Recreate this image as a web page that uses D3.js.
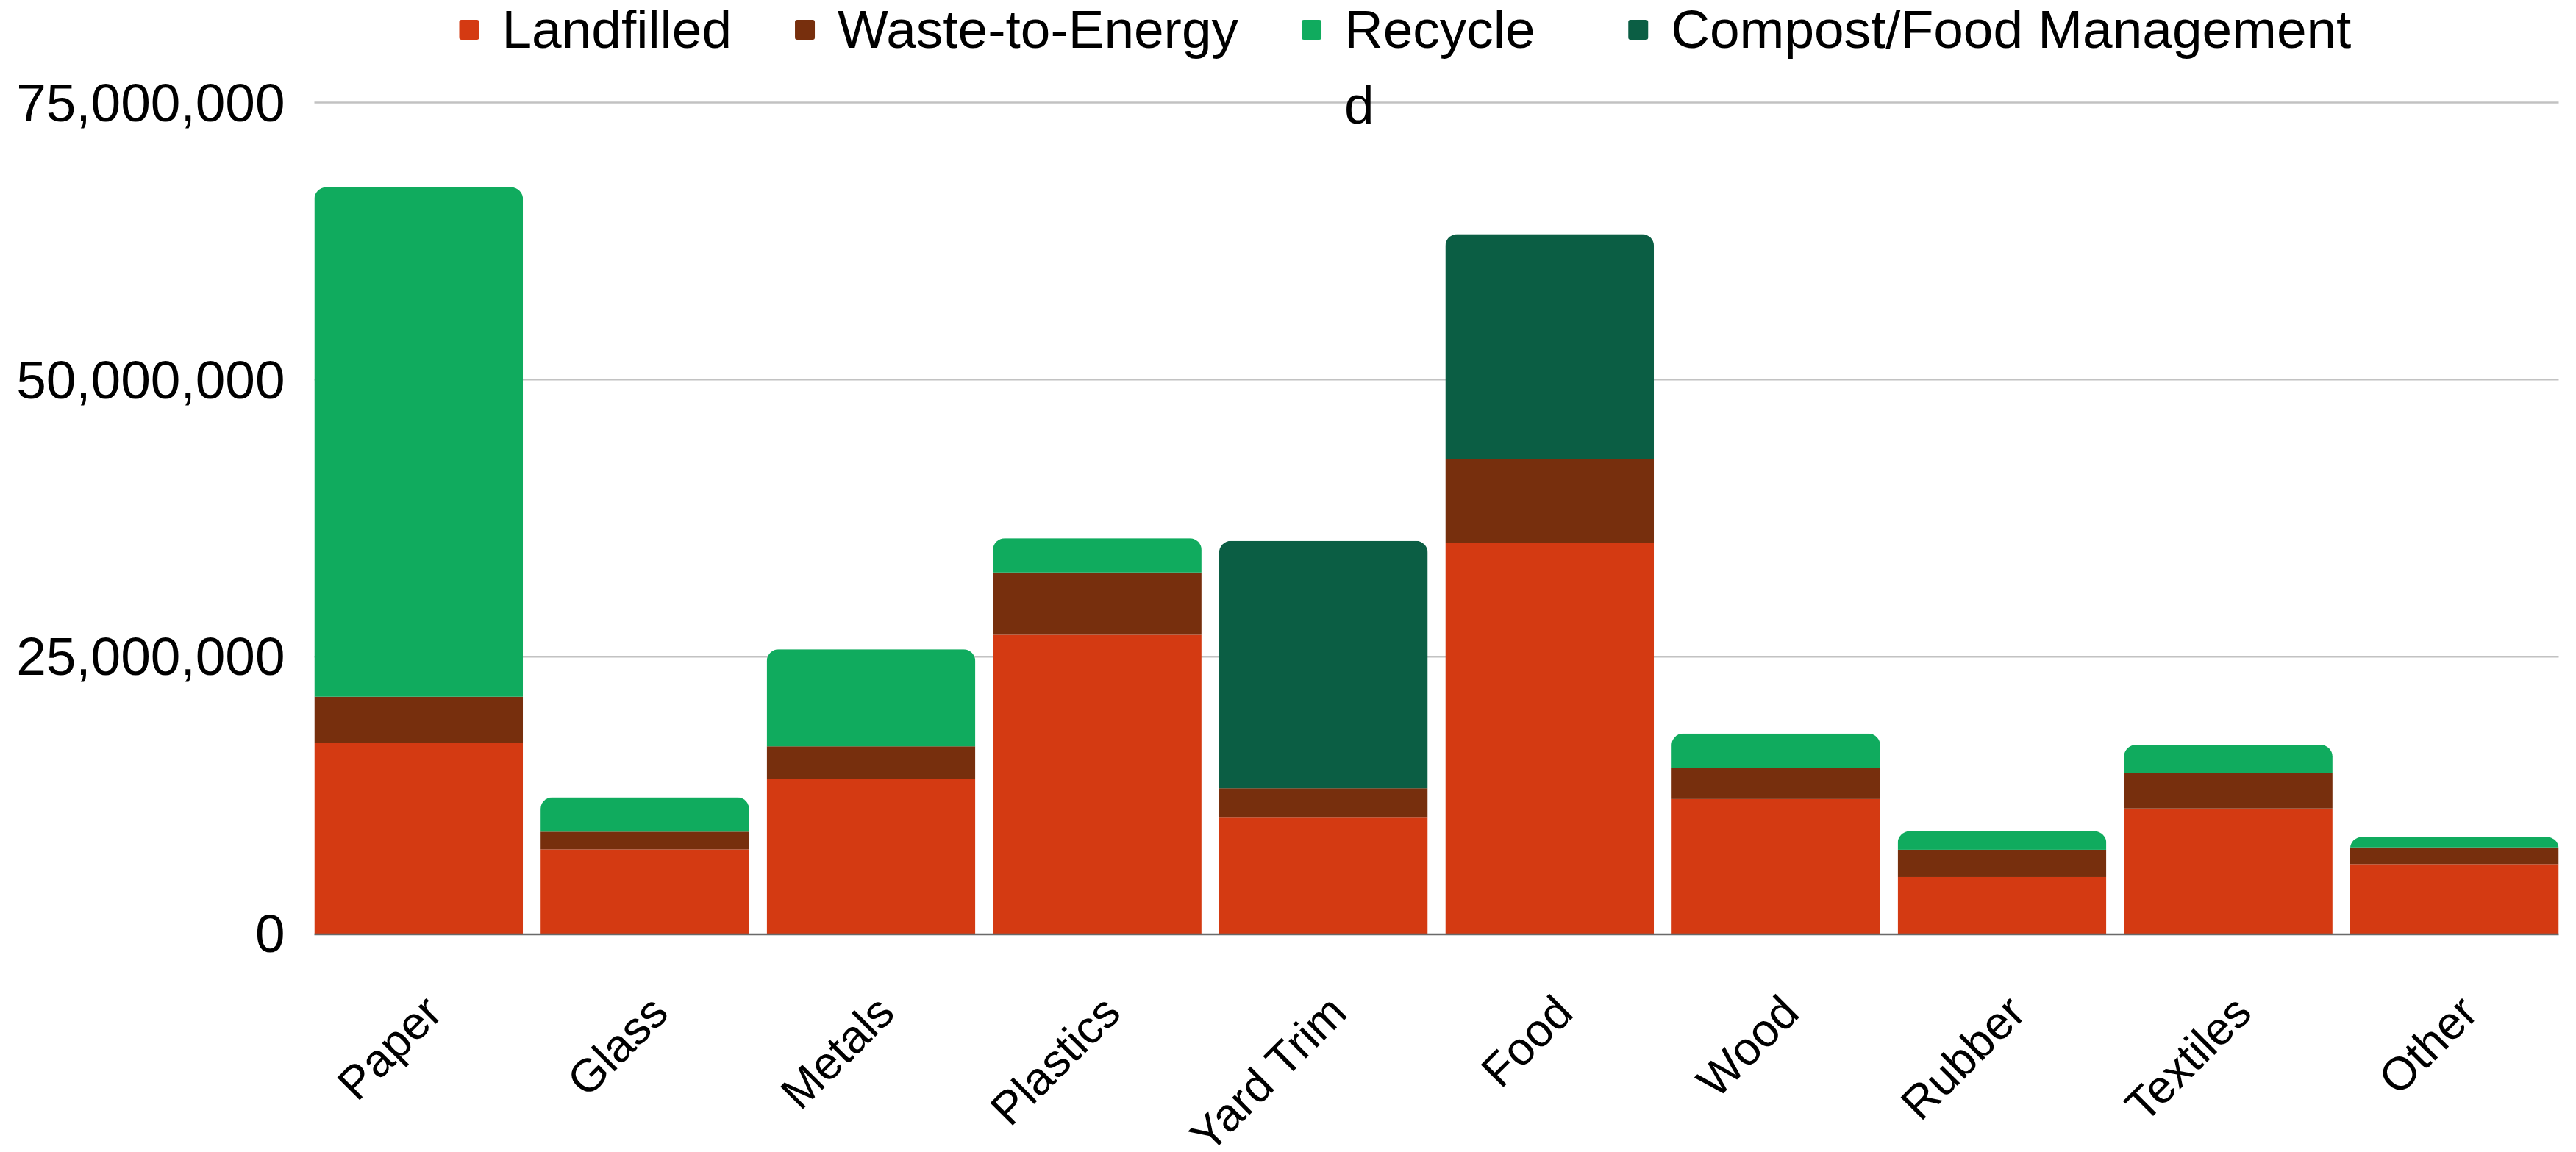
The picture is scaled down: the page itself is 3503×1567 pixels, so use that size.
<!DOCTYPE html>
<html>
<head>
<meta charset="utf-8">
<script src="https://cdn.jsdelivr.net/npm/d3@7"></script>
<style>
  body { margin: 0; background: #fff; }
  text { font-family: "Liberation Sans", Arial, sans-serif; }
</style>
</head>
<body>
<div class="stackChart"></div>
<script>
// municipal solid waste by material, tons
var categories    = ["Paper", "Glass", "Metals", "Plastics", "Yard Trim", "Food", "Wood", "Rubber", "Textiles", "Other"];
var landfilled    = [17220000, 7600000, 13960000, 26970000, 10530000, 35280000, 12150000, 5110000, 11300000, 6280000];
var wasteToEnergy = [4160000, 1600000, 2940000, 5620000, 2590000, 7550000, 2810000, 2460000, 3220000, 1500000];
var recycled      = [45970000, 3100000, 8760000, 3090000, 0, 0, 3100000, 1670000, 2510000, 950000];
var composted     = [0, 0, 0, 0, 22320000, 20300000, 0, 0, 0, 0];
var seriesNames   = ["Landfilled", "Waste-to-Energy", "Recycled", "Compost/Food Management"];
var yTicks        = [0, 25000000, 50000000, 75000000];

var keys   = ["landfilled", "wte", "recycled", "composted"];
var colors = ["#d43a12", "#772f0d", "#10ab5e", "#0b5e44"];

var width = 3503, height = 1567;
var fontSize = 73, labelSize = 63;

var svg = d3.select(".stackChart")
    .append("svg")
    .attr("width", width)
    .attr("height", height);

var x = d3.scaleBand()
    .domain(categories)
    .range([427.5, 3479.5])
    .paddingInner(0.078)
    .paddingOuter(0);

var y = d3.scaleLinear()
    .domain([0, 75000000])
    .range([1270, 139.5]);

// gridlines
svg.append("g")
    .selectAll("line")
    .data(yTicks.slice(1))
    .enter()
    .append("line")
    .attr("x1", x.range()[0])
    .attr("x2", x.range()[1])
    .attr("y1", function (d) { return y(d); })
    .attr("y2", function (d) { return y(d); })
    .attr("stroke", "#c2c2c2")
    .attr("stroke-width", 2.5);

// y axis labels
var yAxis = d3.axisLeft(y)
    .tickValues(yTicks)
    .tickFormat(d3.format(","))
    .tickSize(0)
    .tickPadding(40);

svg.append("g")
    .attr("transform", "translate(" + x.range()[0] + ",0)")
    .call(yAxis)
    .call(function (g) { g.select(".domain").remove(); })
    .attr("font-size", fontSize)
    .attr("font-family", null)
    .selectAll("text")
    .attr("fill", "#000")
    .attr("dy", "0.34em");

// stacked bars
var rows = categories.map(function (c, i) {
    return { cat: c, landfilled: landfilled[i], wte: wasteToEnergy[i], recycled: recycled[i], composted: composted[i] };
});
var stack = d3.stack().keys(keys)(rows);

function roundTop(x0, x1, yt, yb, r) {
    r = Math.min(r, yb - yt);
    return "M" + x0 + "," + yb +
        "V" + (yt + r) +
        "A" + r + "," + r + " 0 0 1 " + (x0 + r) + "," + yt +
        "H" + (x1 - r) +
        "A" + r + "," + r + " 0 0 1 " + x1 + "," + (yt + r) +
        "V" + yb + "Z";
}

var defs = svg.append("defs");
defs.selectAll("clipPath")
    .data(rows)
    .enter()
    .append("clipPath")
    .attr("id", function (d, i) { return "bar" + i; })
    .append("path")
    .attr("d", function (d) {
        var total = d.landfilled + d.wte + d.recycled + d.composted;
        return roundTop(x(d.cat), x(d.cat) + x.bandwidth(), y(total), y(0), 16);
    });

var barGroups = svg.append("g")
    .selectAll("g")
    .data(rows)
    .enter()
    .append("g")
    .attr("clip-path", function (d, i) { return "url(#bar" + i + ")"; });

barGroups.each(function (d, i) {
    var g = d3.select(this);
    stack.forEach(function (layer, k) {
        var seg = layer[i];
        if (seg[1] - seg[0] <= 0) return;
        g.append("rect")
            .attr("x", x(d.cat))
            .attr("width", x.bandwidth())
            .attr("y", y(seg[1]))
            .attr("height", y(seg[0]) - y(seg[1]))
            .attr("fill", colors[k]);
    });
});

// baseline
svg.append("line")
    .attr("x1", x.range()[0])
    .attr("x2", x.range()[1])
    .attr("y1", y(0) + 1)
    .attr("y2", y(0) + 1)
    .attr("stroke", "#6a6a6a")
    .attr("stroke-width", 2.5);

// slanted category labels
svg.append("g")
    .selectAll("text")
    .data(categories)
    .enter()
    .append("text")
    .attr("transform", function (d) {
        return "translate(" + (x(d) + x.bandwidth() / 2 + 35) + "," + (y(0) + 111) + ") rotate(-45)";
    })
    .attr("text-anchor", "end")
    .attr("font-size", labelSize)
    .attr("fill", "#000")
    .text(function (d) { return d; });

// legend
var legend = svg.append("g").attr("font-size", fontSize);
var lx = 624.5;
seriesNames.forEach(function (name, k) {
    var item = legend.append("g").attr("transform", "translate(" + lx + ",0)");
    item.append("rect")
        .attr("x", 0)
        .attr("y", 27)
        .attr("width", 27)
        .attr("height", 27)
        .attr("rx", 3)
        .attr("fill", colors[k]);
    var t = item.append("text")
        .attr("x", 58)
        .attr("y", 65)
        .attr("fill", "#000")
        .text(name);
    var w = t.node().getComputedTextLength();
    if (name === "Recycled") {
        // the legend wraps the last letter onto a second line
        t.text(null);
        t.append("tspan").attr("x", 58).attr("y", 65).text(name.slice(0, -1));
        t.append("tspan").attr("x", 58).attr("y", 168).text(name.slice(-1));
    }
    lx += 58 + w + 86;
});
</script>
</body>
</html>
